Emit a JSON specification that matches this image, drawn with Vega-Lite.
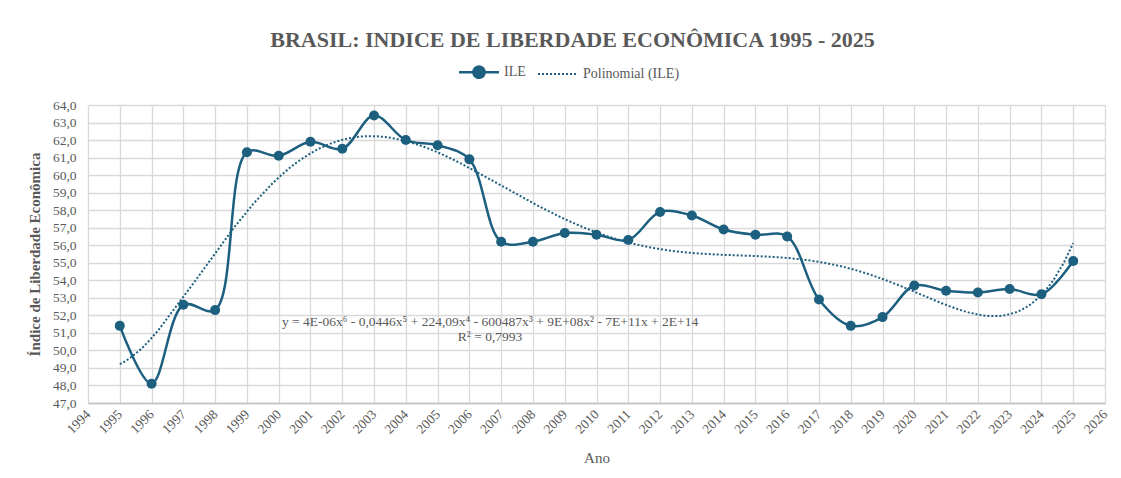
{
  "$schema": "https://vega.github.io/schema/vega-lite/v6.json",
  "width": 1017,
  "height": 298,
  "autosize": {"type": "none"},
  "padding": {"left": 88, "top": 105, "right": 16, "bottom": 75},
  "background": "white",
  "title": {
    "text": "BRASIL: INDICE DE LIBERDADE ECONÔMICA 1995 - 2025",
    "font": "Liberation Serif",
    "fontSize": 22,
    "fontWeight": "bold",
    "color": "#595959",
    "anchor": "middle",
    "dx": -24,
    "offset": 13
  },
  "datasets": {
    "ile": [
      {"ano": 1995, "ile": 51.4},
      {"ano": 1996, "ile": 48.1},
      {"ano": 1997, "ile": 52.6},
      {"ano": 1998, "ile": 52.3},
      {"ano": 1999, "ile": 61.3},
      {"ano": 2000, "ile": 61.1},
      {"ano": 2001, "ile": 61.9},
      {"ano": 2002, "ile": 61.5},
      {"ano": 2003, "ile": 63.4},
      {"ano": 2004, "ile": 62.0},
      {"ano": 2005, "ile": 61.7},
      {"ano": 2006, "ile": 60.9},
      {"ano": 2007, "ile": 56.2},
      {"ano": 2008, "ile": 56.2},
      {"ano": 2009, "ile": 56.7},
      {"ano": 2010, "ile": 56.6},
      {"ano": 2011, "ile": 56.3},
      {"ano": 2012, "ile": 57.9},
      {"ano": 2013, "ile": 57.7},
      {"ano": 2014, "ile": 56.9},
      {"ano": 2015, "ile": 56.6},
      {"ano": 2016, "ile": 56.5},
      {"ano": 2017, "ile": 52.9},
      {"ano": 2018, "ile": 51.4},
      {"ano": 2019, "ile": 51.9},
      {"ano": 2020, "ile": 53.7},
      {"ano": 2021, "ile": 53.4},
      {"ano": 2022, "ile": 53.3},
      {"ano": 2023, "ile": 53.5},
      {"ano": 2024, "ile": 53.2},
      {"ano": 2025, "ile": 55.1}
    ],
    "eq": [
      {"ano": 2006.65, "ile": 51.62, "label": "y = 4E-06x⁶ - 0,0446x⁵ + 224,09x⁴ - 600487x³ + 9E+08x² - 7E+11x + 2E+14"},
      {"ano": 2006.65, "ile": 50.77, "label": "R² = 0,7993"}
    ]
  },
  "encoding": {
    "x": {
      "field": "ano",
      "type": "quantitative",
      "scale": {"domain": [1994, 2026], "nice": false, "zero": false},
      "axis": {
        "title": "Ano",
        "values": [1994,1995,1996,1997,1998,1999,2000,2001,2002,2003,2004,2005,2006,2007,2008,2009,2010,2011,2012,2013,2014,2015,2016,2017,2018,2019,2020,2021,2022,2023,2024,2025,2026],
        "format": "d",
        "labelAngle": -45,
        "labelAlign": "right",
        "labelBaseline": "middle",
        "labelPadding": 9,
        "ticks": false,
        "domainColor": "#bfbfbf",
        "domainWidth": 1.5,
        "gridColor": "#d9d9d9",
        "gridWidth": 1.3,
        "titlePadding": 15,
        "labelFlush": false,
        "labelOverlap": false
      }
    },
    "y": {
      "field": "ile",
      "type": "quantitative",
      "scale": {"domain": [47, 64], "nice": false, "zero": false},
      "axis": {
        "title": "Índice de Liberdade Econômica",
        "values": [47,48,49,50,51,52,53,54,55,56,57,58,59,60,61,62,63,64],
        "labelExpr": "replace(format(datum.value, '.1f'), '.', ',')",
        "ticks": false,
        "domain": false,
        "labelPadding": 12,
        "gridColor": "#d9d9d9",
        "gridWidth": 1.3,
        "titleFontWeight": "bold",
        "titleFontSize": 15,
        "titlePadding": 10,
        "labelFlush": false,
        "labelOverlap": false
      }
    }
  },
  "layer": [
    {
      "data": {"name": "ile"},
      "transform": [{"regression": "ile", "on": "ano", "method": "poly", "order": 6}],
      "mark": {"type": "line", "strokeWidth": 2, "strokeDash": [2, 2]},
      "encoding": {
        "color": {"datum": "Polinomial (ILE)", "type": "nominal"}
      }
    },
    {
      "data": {"name": "ile"},
      "mark": {"type": "line", "interpolate": "catmull-rom", "strokeWidth": 2.5},
      "encoding": {
        "color": {
          "datum": "ILE",
          "type": "nominal",
          "scale": {"domain": ["ILE", "Polinomial (ILE)"], "range": ["#1d5f7f", "#1d5f7f"]},
          "legend": {
            "title": null,
            "orient": "none",
            "direction": "horizontal",
            "legendX": 384,
            "legendY": -40,
            "symbolSize": 1600,
            "symbolStrokeWidth": 2.5,
            "labelFont": "Liberation Serif",
            "labelFontSize": 14,
            "labelColor": "#595959",
            "columnPadding": 8,
            "labelOffset": 18,
            "encode": {
              "symbols": {
                "update": {
                  "shape": {"signal": "datum.value == 'ILE' ? 'M-1,0L-0.28,0M0.28,0L1,0M-0.28,0A0.28,0.28,0,1,0,0.28,0A0.28,0.28,0,1,0,-0.28,0Z' : 'stroke'"},
                  "fill": {"signal": "datum.value == 'ILE' ? '#1d5f7f' : 'transparent'"},
                  "stroke": {"value": "#1d5f7f"},
                  "strokeDash": {"signal": "datum.value == 'ILE' ? [1, 0] : [2, 2]"},
                  "strokeWidth": {"signal": "datum.value == 'ILE' ? 2.5 : 2"}
                }
              }
            }
          }
        }
      }
    },
    {
      "data": {"name": "ile"},
      "mark": {"type": "circle", "size": 100, "opacity": 1, "color": "#1d5f7f"}
    },
    {
      "data": {"name": "eq"},
      "mark": {"type": "text", "font": "Liberation Serif", "fontSize": 13.5, "color": "#595959", "align": "center", "baseline": "middle"},
      "encoding": {"text": {"field": "label"}}
    }
  ],
  "config": {
    "view": {"stroke": null},
    "font": "Liberation Serif",
    "axis": {
      "labelFont": "Liberation Serif",
      "labelFontSize": 13.5,
      "labelColor": "#595959",
      "titleFont": "Liberation Serif",
      "titleFontSize": 15,
      "titleColor": "#595959",
      "titleFontWeight": "normal"
    }
  }
}
